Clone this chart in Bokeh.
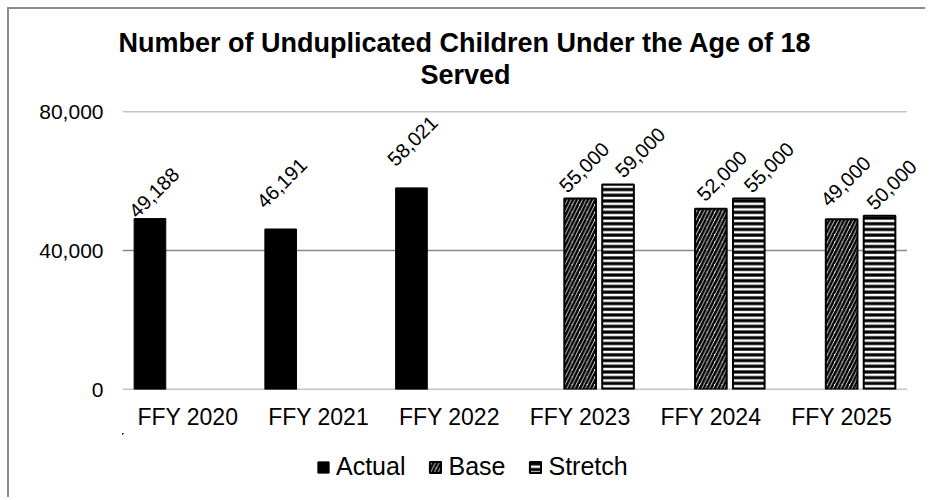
import math
from bokeh.plotting import figure
from bokeh.layouts import column
from bokeh.models import (ColumnDataSource, Range1d, Legend, LegendItem, Title,
                          NumeralTickFormatter, FixedTicker)
from bokeh.transform import dodge
from bokeh.embed import file_html
from bokeh.resources import INLINE
from bokeh.core.properties import value

# ---------------- data ----------------
categories = ["FFY 2020", "FFY 2021", "FFY 2022", "FFY 2023", "FFY 2024", "FFY 2025"]
actual_years = ["FFY 2020", "FFY 2021", "FFY 2022"]
actual_values = [49188, 46191, 58021]
target_years = ["FFY 2023", "FFY 2024", "FFY 2025"]
base_values = [55000, 52000, 49000]
stretch_values = [59000, 55000, 50000]
y_ticks = [0, 40000, 80000]
series_names = ["Actual", "Base", "Stretch"]
title_line1 = "Number of Unduplicated Children Under the Age of 18"
title_line2 = "Served"

# label nudges in screen pixels (x right, y down)
actual_dx = [4, 1, 1]
actual_dy = [-26, -46, -47]
base_dx = [4, 11, 4]
base_dy = [-31, -33, -38]
stretch_dx = [22, 20, 12]
stretch_dy = [-32, -31, -31]

FONT = "Liberation Sans"
GRID = "#898989"

def fmt(v):
    return "{:,}".format(v)

def center(cat):
    return categories.index(cat) + 0.5

src_actual = ColumnDataSource(dict(xc=[center(c) for c in actual_years], val=actual_values,
                                   lab=[fmt(v) for v in actual_values],
                                   dx=actual_dx, dy=actual_dy))
src_base = ColumnDataSource(dict(xc=[center(c) for c in target_years], val=base_values,
                                 lab=[fmt(v) for v in base_values],
                                 dx=base_dx, dy=base_dy))
src_stretch = ColumnDataSource(dict(xc=[center(c) for c in target_years], val=stretch_values,
                                    lab=[fmt(v) for v in stretch_values],
                                    dx=stretch_dx, dy=stretch_dy))
src_grid = ColumnDataSource(dict(y=y_ticks, x0=[0] * len(y_ticks),
                                 x1=[len(categories)] * len(y_ticks)))

# frame is a little wider than the plot area so that end labels are not clipped
frame_px, area_px = 803.0, 784.5
x_end = len(categories) * frame_px / area_px

p = figure(x_range=Range1d(0, x_end), y_range=Range1d(0, 80000),
           width=916, height=424, output_backend="svg", toolbar_location=None,
           min_border_left=113, min_border_right=0, min_border_top=102, min_border_bottom=44)
p.outline_line_color = None
p.background_fill_color = "white"
p.border_fill_color = "white"
p.xgrid.visible = False
p.ygrid.visible = False

# gridlines + category axis line (limited to the plot area)
p.segment(x0="x0", x1="x1", y0="y", y1="y", source=src_grid,
          line_color=GRID, line_width=1.5)

off = 0.29
bw = 0.242
bar_styles = [
    dict(fill_color="black", line_color="black", line_width=1),
    dict(fill_color="white", line_color="black", line_width=2,
         hatch_pattern="/", hatch_color="black", hatch_scale=7.5, hatch_weight=2.6),
    dict(fill_color="white", line_color="black", line_width=2,
         hatch_pattern="-", hatch_color="black", hatch_scale=5.7, hatch_weight=3.2),
]
sources = [src_actual, src_base, src_stretch]
offsets = [-off, 0.0, off]

for o, src, st in zip(offsets, sources, bar_styles):
    p.vbar(x=dodge("xc", o), top="val", bottom=0, width=bw, source=src, **st)
    p.text(x=dodge("xc", o), y="val", text="lab", source=src, angle=math.pi / 4,
           x_offset="dx", y_offset="dy",
           text_align="center", text_baseline="middle",
           text_font=value(FONT), text_font_size="20px", text_color="black")

# axes
p.yaxis.ticker = FixedTicker(ticks=y_ticks)
p.yaxis.formatter = NumeralTickFormatter(format="0,0")
p.yaxis.axis_line_color = None
p.yaxis.major_tick_line_color = None
p.yaxis.minor_tick_line_color = None
p.yaxis.major_tick_out = 0
p.yaxis.major_tick_in = 0
p.yaxis.major_label_standoff = 19
p.yaxis.major_label_text_font = FONT
p.yaxis.major_label_text_font_size = "21px"
p.yaxis.major_label_text_color = "black"

cat_centers = [center(c) for c in categories]
p.xaxis.ticker = FixedTicker(ticks=cat_centers)
p.xaxis.major_label_overrides = {c: name for c, name in zip(cat_centers, categories)}
p.xaxis.axis_line_color = None
p.xaxis.major_tick_line_color = None
p.xaxis.minor_tick_line_color = None
p.xaxis.major_tick_out = 0
p.xaxis.major_tick_in = 0
p.xaxis.major_label_standoff = 14
p.xaxis.major_label_text_font = FONT
p.xaxis.major_label_text_font_size = "23px"
p.xaxis.major_label_text_color = "black"

# title (two lines, centred on the chart area)
spacer = Title(text=" ", text_font_size="1px", standoff=19)
t2 = Title(text=title_line2, align="left", offset=298, text_font=FONT,
           text_font_size="27px", text_font_style="bold", text_color="black", standoff=0)
t1 = Title(text=title_line1, align="left", offset=-4, text_font=FONT,
           text_font_size="27px", text_font_style="bold", text_color="black", standoff=0)
p.add_layout(spacer, "above")
p.add_layout(t2, "above")
p.add_layout(t1, "above")

# legend strip (separate figure directly below the chart; the series are
# re-drawn there far outside its visible ranges so the legend has real glyphs)
pl = figure(width=916, height=64, output_backend="svg", toolbar_location=None,
            x_range=Range1d(1000, 1001), y_range=Range1d(-1e7, -1e7 + 1),
            x_axis_type=None, y_axis_type=None,
            min_border_left=0, min_border_right=0, min_border_top=0, min_border_bottom=0)
pl.outline_line_color = None
pl.xgrid.visible = False
pl.ygrid.visible = False
legend_items = []
for name, o, src, st in zip(series_names, offsets, sources, bar_styles):
    r = pl.vbar(x=dodge("xc", o), top="val", bottom=0, width=bw, source=src, **st)
    legend_items.append(LegendItem(label=name, renderers=[r]))
legend = Legend(items=legend_items, orientation="horizontal", location=(194, 16),
                label_text_font=FONT, label_text_font_size="25px",
                label_text_color="black", glyph_width=14, glyph_height=14,
                label_standoff=6, spacing=23, padding=0, margin=0,
                border_line_color=None, background_fill_color=None)
pl.add_layout(legend, "center")

layout = column(p, pl, spacing=0,
                styles={"margin-left": "7px", "margin-top": "7px",
                        "border-left": "2px solid #8c8c8c", "border-top": "2px solid #8c8c8c"})

open("out.html", "w").write(file_html(layout, INLINE))
